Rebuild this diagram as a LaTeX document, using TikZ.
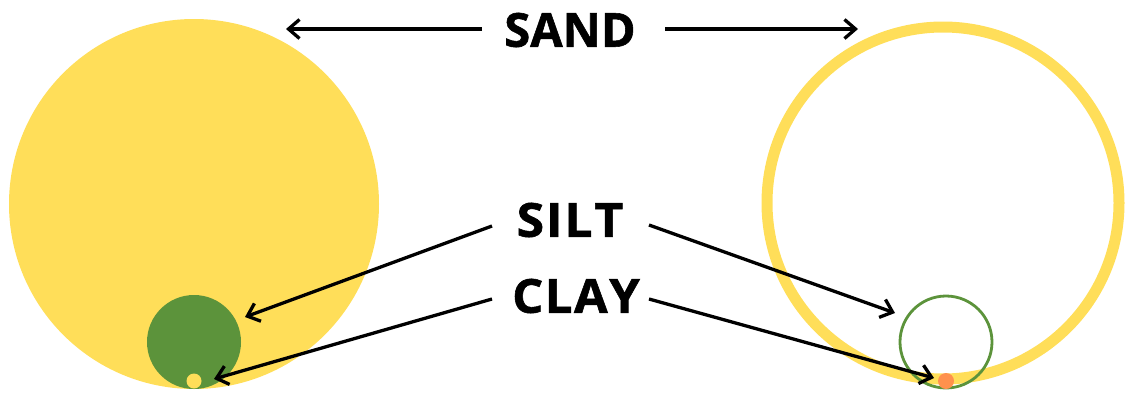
\documentclass[tikz,border=0pt]{standalone}
\usepackage{fontspec}
\setmainfont{Open Sans}
\newfontfamily\lblfont[BoldFeatures={FakeBold=1.2}]{Open Sans}
\usetikzlibrary{arrows.meta}
\definecolor{sandY}{HTML}{FFDE59}
\definecolor{siltG}{HTML}{5C933B}
\definecolor{clayO}{HTML}{FF914D}
\tikzset{
  lbl/.style={font=\lblfont\bfseries\fontsize{47}{50}\selectfont, inner sep=0pt, text=black},
  arr/.style={draw=black, line width=3.3pt, -{Straight Barb[length=11pt,width=19pt,line width=3.3pt]}},
  disc/.style={circle, inner sep=0pt, minimum size=#1, draw=none},
}
\begin{document}
\begin{tikzpicture}[x=1pt,y=-1pt]
\useasboundingbox (0,0) rectangle (1125,392);
% left: filled discs
\node[disc=370pt, fill=sandY] (sandL) at (194,204) {};
\node[disc=94pt, fill=siltG] (siltL) at (194,342) {};
\node[disc=15pt, fill=sandY] (clayL) at (194,381) {};
% right: rings
\node[circle, inner sep=0pt, minimum size=352pt, draw=sandY, line width=11pt] (sandR) at (943,203) {};
\node[circle, inner sep=0pt, minimum size=92pt, draw=siltG, line width=2.8pt] (siltR) at (946,342) {};
\node[disc=16pt, fill=clayO] (clayR) at (946,381) {};
% labels
\node[lbl] (sand) at (570,30) {SAND};
\node[lbl] (silt) at (570,220) {\scalebox{1.06}[1]{S\kern1.8pt I\kern1.8pt L\kern1.8pt T}};
\node[lbl] (clay) at (576,296) {\scalebox{1.04}[1]{C\kern1.5pt L\kern1.5pt A\kern1.5pt Y}};
% arrow ends
\coordinate (sA1) at (482,29);  \coordinate (sT1) at (286,29);
\coordinate (sA2) at (665,29);  \coordinate (sT2) at (858,29);
\coordinate (iA1) at (492,226); \coordinate (iT1) at (245,317);
\coordinate (iA2) at (649,225); \coordinate (iT2) at (895,313);
\coordinate (cA1) at (492,299); \coordinate (cT1) at (214,379);
\coordinate (cA2) at (649,299); \coordinate (cT2) at (934,378);
\draw[arr] (sA1) -- (sT1);
\draw[arr] (sA2) -- (sT2);
\draw[arr] (iA1) -- (iT1);
\draw[arr] (iA2) -- (iT2);
\draw[arr] (cA1) -- (cT1);
\draw[arr] (cA2) -- (cT2);
\end{tikzpicture}
\end{document}
